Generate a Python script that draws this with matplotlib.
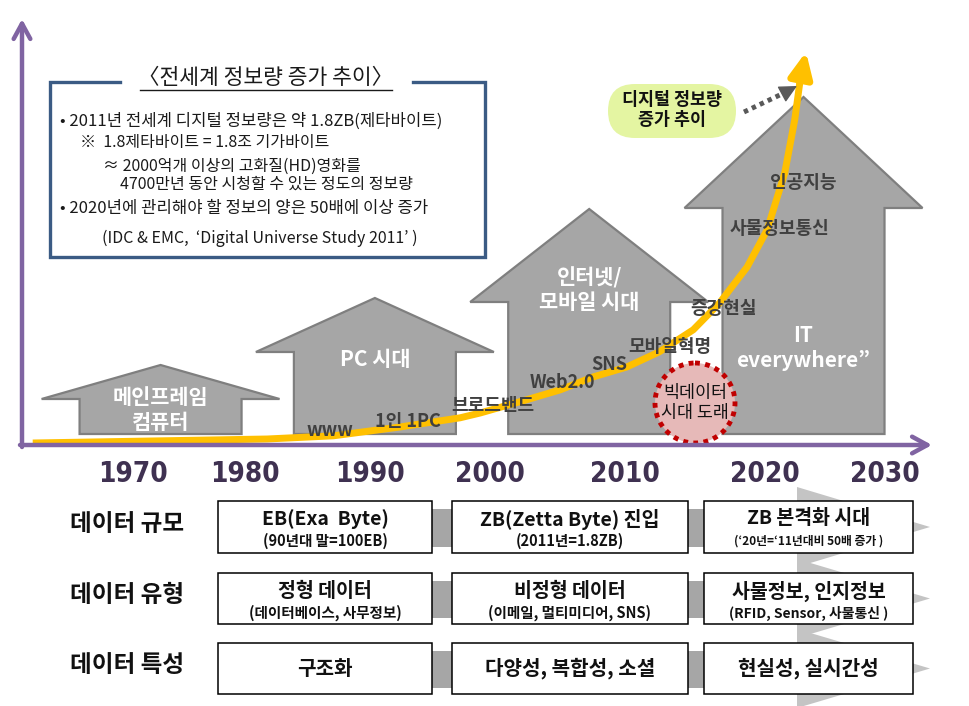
import numpy as np
import matplotlib
matplotlib.use("Agg")
import matplotlib.pyplot as plt
from matplotlib import font_manager
from matplotlib.patches import Polygon, Circle, Rectangle, FancyBboxPatch

# ---- data ----
YEARS = [1970, 1980, 1990, 2000, 2010, 2020, 2030]

# digital info volume trend (year, relative level 0..100)
CURVE_YEAR = [1962.0, 1971.4, 1980.7, 1986.0, 1991.3, 1996.1, 1997.7, 2001.4, 2004.1,
              2006.7, 2009.4, 2012.0, 2014.7, 2016.8, 2019.0, 2020.6, 2022.0, 2022.8, 2023.2]
CURVE_LEVEL = [0.5, 1.0, 1.5, 2.3, 4.5, 6.8, 8.0, 11.3, 13.8,
               17.0, 19.5, 23.3, 28.8, 35.5, 44.5, 53.8, 68.0, 81.3, 90.5]
CURVE_TIP = (2023.7, 98.3)

ERA_LABELS = ["메인프레임\n컴퓨터", "PC 시대", "인터넷/\n모바일 시대", "IT\neverywhere”"]
ERA_CENTER = [1972.2, 1989.3, 2006.4, 2023.5]
ERA_EAVE = [11.5, 23.25, 35.75, 59.25]
ERA_APEX = [20.0, 36.75, 59.0, 87.0]
ERA_LABEL_LEVEL = [8.75, 21.25, 38.75, 24.25]

KEYWORDS = ["www", "1인 1PC", "브로드밴드", "Web2.0", "SNS", "모바일혁명",
            "증강현실", "사물정보통신", "인공지능"]
KEYWORD_YEAR = [1985.7, 1991.9, 1998.7, 2004.3, 2008.0, 2012.8, 2017.1, 2021.6, 2023.5]
KEYWORD_LEVEL = [3.5, 5.75, 9.75, 15.5, 20.0, 24.5, 34.25, 54.25, 65.75]

NOTE_TITLE = "〈전세계 정보량 증가 추이〉"
NOTE_LINES = [
    "• 2011년 전세계 디지털 정보량은 약 1.8ZB(제타바이트)",
    "※  1.8제타바이트 = 1.8조 기가바이트",
    "≈ 2000억개 이상의 고화질(HD)영화를",
    "4700만년 동안 시청할 수 있는 정도의 정보량",
    "• 2020년에 관리해야 할 정보의 양은 50배에 이상 증가",
    "(IDC & EMC,  ‘Digital Universe Study 2011’ )",
]
BUBBLE_TEXT = "디지털 정보량\n증가 추이"
CIRCLE_TEXT = "빅데이터\n시대 도래"

ROW_LABELS = ["데이터 규모", "데이터 유형", "데이터 특성"]
CELL_MAIN = [
    ["EB(Exa  Byte)", "ZB(Zetta Byte) 진입", "ZB 본격화 시대"],
    ["정형 데이터", "비정형 데이터", "사물정보, 인지정보"],
    ["구조화", "다양성, 복합성, 소셜", "현실성, 실시간성"],
]
CELL_SUB = [
    ["(90년대 말=100EB)", "(2011년=1.8ZB)", "(‘20년=‘11년대비 50배 증가 )"],
    ["(데이터베이스, 사무정보)", "(이메일, 멀티미디어, SNS)", "(RFID, Sensor, 사물통신 )"],
    ["", "", ""],
]

# ---- layout (pixels) ----
W, H = 969, 706
PX_PER_YEAR = 12.533
X1970 = 133
Y_ZERO, PX_PER_LEVEL = 445, 4.0
YEAR_LABEL_X = [133, 245, 370, 490, 625, 765, 885]
COL_X = [(218, 432), (452, 688), (704, 913)]
ROW_Y = [(501, 553), (573, 624), (643, 694)]
SUB_FS = [[10.5, 10.5, 8.5], [10.5, 10.5, 10], [10.5, 10.5, 10.5]]

PURPLE = "#8064A2"
YELLOW = "#FFC000"
HOUSE = "#A6A6A6"
HOUSE_EDGE = "#7F7F7F"
KEY_COL = "#404040"

plt.rcParams["font.family"] = ["Noto Sans CJK KR", "DejaVu Sans"]


def narrow_year_font():
    # pick a condensed bold face for the year labels if one is installed
    for fam, stretch, size in [("Liberation Sans Narrow", "normal", 20),
                               ("DejaVu Sans", "condensed", 20),
                               ("Roboto", "normal", 19)]:
        fp = font_manager.FontProperties(family=fam, weight="bold", stretch=stretch)
        try:
            path = font_manager.findfont(fp, fallback_to_default=False).lower()
        except Exception:
            continue
        if stretch == "condensed" and "condensed" not in path:
            continue
        if fam.split()[0].lower() in path:
            return fp, size
    return font_manager.FontProperties(family="DejaVu Sans", weight="bold"), 17


fig = plt.figure(figsize=(W / 100, H / 100), dpi=100)

# growth axes: year vs level
ax_g = fig.add_axes([0, 0, 1, 1])
ax_g.set_xlim(1970 - X1970 / PX_PER_YEAR, 1970 + (W - X1970) / PX_PER_YEAR)
ax_g.set_ylim((Y_ZERO - H) / PX_PER_LEVEL, Y_ZERO / PX_PER_LEVEL)
ax_g.axis("off")

base = (Y_ZERO - 434) / PX_PER_LEVEL
body_hw = 81 / PX_PER_YEAR
roof_hw = 119 / PX_PER_YEAR
for lab, c, e, a, ly in zip(ERA_LABELS, ERA_CENTER, ERA_EAVE, ERA_APEX, ERA_LABEL_LEVEL):
    pts = [(c - body_hw, base), (c - body_hw, e), (c - roof_hw, e), (c, a),
           (c + roof_hw, e), (c + body_hw, e), (c + body_hw, base)]
    ax_g.add_patch(Polygon(pts, closed=True, facecolor=HOUSE, edgecolor=HOUSE_EDGE,
                           lw=1.6, zorder=2))
    ax_g.text(c, ly, lab, ha="center", va="center", color="white", fontsize=15,
              fontweight="bold", linespacing=1.25, zorder=3)

ax_g.plot(CURVE_YEAR, CURVE_LEVEL, color=YELLOW, lw=5, solid_capstyle="butt",
          solid_joinstyle="round", zorder=4)
ax_g.annotate("", xy=CURVE_TIP, xytext=(CURVE_YEAR[-1], CURVE_LEVEL[-1]),
              arrowprops=dict(arrowstyle="-|>,head_length=1.5,head_width=0.7",
                              color=YELLOW, lw=5, shrinkA=0, shrinkB=0), zorder=4)

for k, x, y in zip(KEYWORDS, KEYWORD_YEAR, KEYWORD_LEVEL):
    ax_g.text(x, y, k, ha="center", va="center", color=KEY_COL, fontsize=13,
              fontweight="bold", zorder=5)

# canvas axes on top, in pixels
ax = fig.add_axes([0, 0, 1, 1])
ax.set_xlim(0, W)
ax.set_ylim(H, 0)
ax.axis("off")
ax.patch.set_visible(False)

# purple axes
ax.annotate("", xy=(22, 19), xytext=(22, 447),
            arrowprops=dict(arrowstyle="->,head_length=1.1,head_width=0.6",
                            color=PURPLE, lw=3.2, shrinkA=0, shrinkB=0))
ax.annotate("", xy=(932, 445), xytext=(20, 445),
            arrowprops=dict(arrowstyle="->,head_length=1.1,head_width=0.6",
                            color=PURPLE, lw=3.2, shrinkA=0, shrinkB=0))

# note box
ax.plot([120, 50, 50, 485, 485, 413], [82, 82, 257, 257, 82, 82],
        color="#3B5B84", lw=2.4, solid_joinstyle="miter")
ax.text(266, 78, NOTE_TITLE, ha="center", va="center", fontsize=15.5, color="#1a1a1a")
ax.plot([140, 392], [90, 90], color="#1a1a1a", lw=1)
note_pos = [(60, 121, 12), (80, 143, 11.5), (103, 166, 11.5), (120, 184, 11.5),
            (60, 208, 12), (102, 238, 11.5)]
for s, (x, y, fs) in zip(NOTE_LINES, note_pos):
    ax.text(x, y, s, ha="left", va="center", fontsize=fs, color="#1a1a1a")

# bubble + dotted pointer
ax.add_patch(FancyBboxPatch((608, 84), 128, 54, boxstyle="round,pad=0,rounding_size=27",
                            facecolor="#E4F5A2", edgecolor="none"))
ax.text(672, 110, BUBBLE_TEXT, ha="center", va="center", fontsize=12.5,
        fontweight="bold", linespacing=1.15, color="#111111")
ax.plot([744, 784], [112, 93], color="#595959", lw=3.5, linestyle=(0, (0.9, 0.9)))
ax.annotate("", xy=(797, 86), xytext=(784, 93),
            arrowprops=dict(arrowstyle="-|>,head_length=1.1,head_width=0.55",
                            color="#595959", lw=1, shrinkA=0, shrinkB=0))

# big data circle
ax.add_patch(Circle((695, 403), 40, facecolor="#E6B9B8", edgecolor="#C00000",
                    lw=3.5, linestyle=(0, (1, 1.1))))
ax.text(695, 403, CIRCLE_TEXT, ha="center", va="center", fontsize=12.5,
        linespacing=1.15, color="#111111")

# year labels
year_fp, year_fs = narrow_year_font()
for yr, x in zip(YEARS, YEAR_LABEL_X):
    ax.text(x, 474, str(yr), ha="center", va="center", fontproperties=year_fp,
            fontsize=year_fs, color="#3F3151")

# bottom table
for (y0, y1) in ROW_Y:
    ym = (y0 + y1) / 2
    ax.add_patch(Polygon([(797, y0 - 14), (930, ym), (797, y1 + 14)], closed=True,
                         facecolor="#C4C4C4", edgecolor="none"))
    for gx0, gx1 in [(430, 454), (686, 706)]:
        ax.add_patch(Rectangle((gx0, y0 + 8), gx1 - gx0, y1 - y0 - 14,
                               facecolor=HOUSE, edgecolor="none"))

for r, lab in enumerate(ROW_LABELS):
    y0, y1 = ROW_Y[r]
    ym = (y0 + y1) / 2
    ax.text(127, ym - 3, lab, ha="center", va="center", fontsize=17,
            fontweight="bold", color="#111111")
    for c, (x0, x1) in enumerate(COL_X):
        ax.add_patch(Rectangle((x0, y0), x1 - x0, y1 - y0, facecolor="white",
                               edgecolor="black", lw=1.1))
        xm = (x0 + x1) / 2
        if CELL_SUB[r][c]:
            ax.text(xm, y0 + 18, CELL_MAIN[r][c], ha="center", va="center",
                    fontsize=14, fontweight="bold", color="#111111")
            ax.text(xm, y0 + 40, CELL_SUB[r][c], ha="center", va="center",
                    fontsize=SUB_FS[r][c], fontweight="bold", color="#111111")
        else:
            ax.text(xm, ym, CELL_MAIN[r][c], ha="center", va="center",
                    fontsize=14.5, fontweight="bold", color="#111111")

fig.savefig("out.png", dpi=100, facecolor="white")
